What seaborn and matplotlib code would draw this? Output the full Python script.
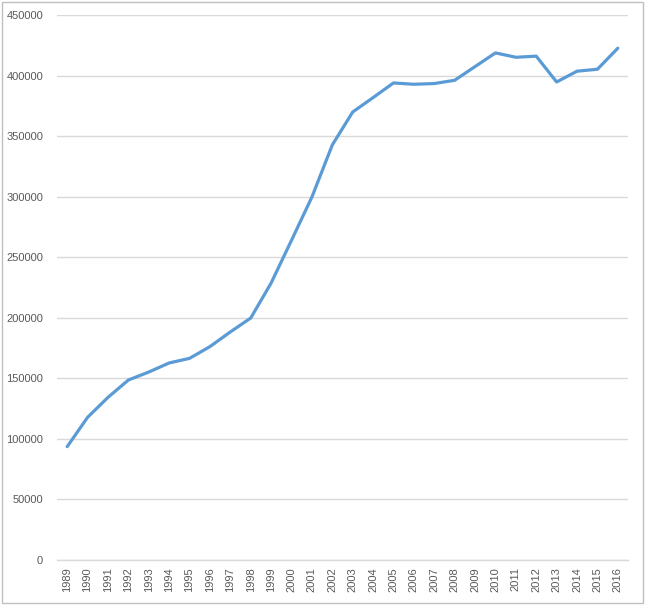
import pandas as pd
import numpy as np
import matplotlib.pyplot as plt
import seaborn as sns
from matplotlib.patches import Rectangle

# values
years = list(range(1989, 2017))
values = [93600, 117800, 134300, 148600, 155200, 162700, 166500, 176200,
          188300, 199800, 228700, 264000, 299700, 342700, 369900, 381800,
          393900, 392800, 393400, 396100, 407400, 418700, 415100, 416000,
          394700, 403600, 405200, 422600]
y_ticks = list(range(0, 450001, 50000))

df = pd.DataFrame({'year': years, 'value': values})

sns.set_style('white')
plt.rcParams['font.family'] = ['Liberation Sans', 'DejaVu Sans']

fig = plt.figure(figsize=(6.46, 6.05), dpi=100)
ax = fig.add_axes([57 / 646, 45 / 605, 571 / 646, 545 / 605])

sns.lineplot(data=df, x='year', y='value', ax=ax, color='#5B9BD5', linewidth=2.3)

ax.set_xlim(years[0] - 0.5, years[-1] + 0.5)
ax.set_ylim(0, 450000)
ax.set_yticks(y_ticks)
ax.set_yticklabels([str(v) for v in y_ticks])
ax.set_xticks(years)
ax.set_xticklabels([str(y) for y in years], rotation=90)
ax.tick_params(axis='both', length=0, labelsize=8, labelcolor='#595959')
ax.tick_params(axis='x', pad=5)
ax.tick_params(axis='y', pad=10)
ax.grid(axis='y', color='#d9d9d9', linewidth=1)
ax.grid(axis='x', visible=False)
ax.set_axisbelow(True)
ax.set_xlabel('')
ax.set_ylabel('')
for side in ['left', 'right', 'top']:
    ax.spines[side].set_visible(False)
ax.spines['bottom'].set_color('#d9d9d9')
ax.spines['bottom'].set_linewidth(1)

# chart area border
fig.patches.append(Rectangle((2 / 646, 2 / 605), 641 / 646, 601 / 605,
                             transform=fig.transFigure, fill=False,
                             edgecolor='#bfbfbf', linewidth=1))

fig.savefig('out.png', dpi=100)
